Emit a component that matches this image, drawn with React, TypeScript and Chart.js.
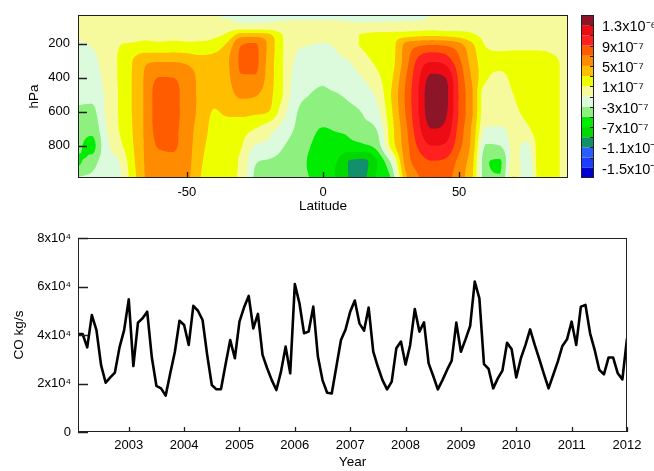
import React, { useEffect, useRef } from 'react';
import { Chart, registerables } from 'chart.js';

Chart.register(...registerables);

const FONT = "'Liberation Sans', Arial, Helvetica, sans-serif";

// ---------- top panel: latitude / pressure field (units of 1e-7) ----------
const LATITUDES = [-90, -85, -80, -75, -70, -65, -60, -55, -50, -45, -40, -35, -30, -25, -20, -15, -10, -5, 0,
  5, 10, 15, 20, 25, 30, 35, 40, 45, 50, 55, 60, 65, 70, 75, 80, 85, 90];
const LEVELS_HPA = [30, 100, 150, 200, 300, 400, 500, 600, 700, 800, 900, 990];
// one row per latitude, one value per pressure level
const FIELD_BY_LAT = [
  [0.5, 0.3, -0.3, -1.4, -2.0, -2.4, -2.6, -3.3, -4.2, -4.6, -5.3, -2.8],
  [0.5, 0.4, 0.0, -0.8, -1.6, -2.1, -2.5, -3.5, -4.4, -5.6, -4.0, -2.4],
  [0.5, 0.5, 0.3, 0.0, -0.2, -0.5, -0.8, -0.9, -1.3, -1.8, -1.8, -1.5],
  [0.5, 0.6, 0.7, 0.9, 1.2, 1.2, 1.1, 1.1, 1.0, 0.3, -1.1, -1.3],
  [0.5, 0.6, 0.7, 1.1, 3.0, 3.1, 3.1, 3.1, 3.0, 2.8, 2.4, 2.0],
  [0.5, 0.6, 0.8, 1.3, 4.6, 5.4, 5.5, 5.5, 5.5, 5.4, 5.3, 5.2],
  [0.5, 0.6, 0.8, 1.2, 4.8, 7.1, 8.2, 8.2, 7.9, 7.2, 6.3, 5.9],
  [0.5, 0.6, 0.8, 1.3, 4.8, 7.0, 7.6, 7.6, 7.5, 7.2, 6.6, 6.0],
  [0.5, 0.6, 0.8, 1.2, 4.5, 6.0, 6.2, 6.2, 6.0, 5.9, 5.7, 5.5],
  [0.3, 0.6, 0.8, 1.2, 3.8, 4.5, 4.5, 4.4, 4.0, 3.6, 3.3, 3.0],
  [-0.9, 0.5, 0.8, 1.5, 3.8, 3.7, 3.5, 2.9, 2.5, 2.2, 1.8, 1.5],
  [-1.6, 0.2, 1.5, 3.4, 4.8, 4.6, 4.2, 3.3, 2.3, 1.8, 1.4, 1.2],
  [-1.6, -0.2, 4.2, 6.9, 7.3, 6.8, 5.4, 3.6, 1.8, 1.1, 0.6, 0.6],
  [-1.6, -0.2, 4.3, 7.1, 7.4, 6.8, 5.2, 3.4, 1.0, -1.1, -2.8, -3.3],
  [-1.6, -0.2, 3.6, 4.6, 4.3, 4.1, 3.7, 3.0, -0.2, -1.5, -3.3, -3.8],
  [-1.6, -0.3, 1.1, 1.2, 1.2, 1.2, 1.1, 0.0, -1.6, -2.8, -3.7, -4.2],
  [-1.6, -0.4, -0.2, -0.6, -1.2, -1.8, -2.2, -2.8, -3.2, -3.9, -4.3, -4.6],
  [-1.6, -0.4, -0.2, -0.9, -1.7, -2.5, -3.0, -3.6, -4.3, -4.9, -5.2, -5.0],
  [-1.6, -0.4, -0.2, -1.1, -2.1, -2.8, -3.2, -3.8, -5.1, -5.8, -6.3, -6.0],
  [-1.6, -0.4, 0.0, -0.6, -1.5, -2.2, -3.1, -3.7, -4.8, -5.8, -7.0, -7.2],
  [-1.6, -0.5, 0.6, 0.6, -0.9, -1.8, -2.6, -3.5, -4.6, -5.6, -9.2, -9.1],
  [-1.6, -0.5, 1.2, 1.2, 0.4, -0.9, -1.9, -2.8, -3.6, -5.3, -9.4, -9.2],
  [-1.6, -0.4, 1.6, 1.8, 1.4, 0.6, -0.5, -1.5, -2.8, -4.0, -7.0, -6.5],
  [-1.6, -0.3, 1.8, 2.2, 2.2, 2.6, 3.0, 2.6, 2.1, 1.6, -2.8, -4.9],
  [-1.6, -0.2, 2.2, 5.2, 5.8, 6.6, 7.0, 6.8, 6.2, 5.8, 5.3, 4.0],
  [-1.6, -0.1, 2.6, 6.3, 9.5, 10.6, 11.0, 10.9, 10.4, 9.3, 7.8, 6.8],
  [-0.9, 0.1, 2.8, 6.6, 10.8, 13.5, 14.3, 14.2, 13.0, 11.0, 8.8, 7.8],
  [0.3, 0.3, 2.6, 6.4, 10.2, 13.0, 13.6, 13.4, 12.4, 10.7, 8.5, 7.6],
  [0.3, 0.4, 2.2, 5.4, 7.4, 8.5, 8.8, 8.8, 8.3, 7.6, 6.3, 5.8],
  [0.3, 0.5, 1.3, 3.1, 4.0, 4.6, 5.0, 5.0, 4.4, 4.0, 3.3, 3.0],
  [0.3, 0.5, 0.6, 0.8, 1.8, 1.3, -0.2, -0.3, -1.2, -3.2, -4.8, -4.6],
  [0.3, 0.5, 0.6, 0.6, 1.6, 0.5, 0.0, -0.2, -1.2, -3.0, -5.2, -4.9],
  [0.3, 0.5, 0.6, 0.6, 1.8, 1.5, 1.0, 0.5, -0.3, -0.5, 0.0, 1.2],
  [0.3, 0.5, 0.6, 0.6, 1.9, 2.0, 2.0, 1.6, 0.6, -1.4, -2.0, -2.6],
  [0.3, 0.5, 0.6, 0.6, 1.9, 2.1, 2.2, 2.2, 2.2, 2.2, 2.2, 2.0],
  [0.3, 0.5, 0.6, 0.5, 1.3, 1.6, 1.6, 1.6, 1.6, 1.6, 1.6, 1.6],
  [0.3, 0.4, 0.4, 0.4, 0.3, -0.2, -0.2, -0.2, -0.2, -0.2, -0.2, -0.2],
];
const LAT_TICKS = [-50, 0, 50];
const P_TICKS = [200, 400, 600, 800];
// contour band edges (units of 1e-7) and colours, bottom to top
const BAND_EDGES = [-17, -15, -13, -11, -9, -7, -5, -3, -1, 1, 3, 5, 7, 9, 11, 13, 15];
const BAND_COLORS = [
  '#0000d2', '#1c3cff', '#2a5cff', '#12906c', '#00d800', '#00ec00', '#8ef07e', '#dcfadc',
  '#f7fa9c', '#eeff00', '#ffbf00', '#ff8c00', '#ff5c00', '#ff2020', '#ee0c14', '#8c1528',
];
const COLORBAR_LABELS = [13, 9, 5, 1, -3, -7, -11, -15];

// ---------- bottom panel: monthly CO flux ----------
const FIRST_MONTH = 2002 + 1 / 12; // Feb 2002, one value per month
const CO_KGS = [
  40400, 40400, 34900, 48200, 42000, 27600, 20300, 22500, 24500, 34900, 42000, 54700,
  27200, 45100, 46900, 49600, 30800, 19000, 18000, 15000, 24200, 33100, 45900, 44100,
  35900, 52000, 50000, 46200, 31800, 19400, 17600, 17700, 28000, 37900, 30400, 45500,
  51400, 56100, 42700, 48700, 31800, 26300, 21400, 17300, 24900, 35200, 24200, 61000,
  53100, 40700, 41400, 51700, 31100, 21400, 16200, 15900, 26900, 37900, 42300, 49600,
  54200, 44800, 41800, 51300, 33100, 26900, 21400, 17600, 20800, 34500, 37300, 27800,
  35900, 50700, 41400, 45200, 28300, 23100, 17600, 21400, 25600, 29400, 45100, 33100,
  38200, 43700, 62000, 55100, 28000, 26000, 18000, 22100, 25300, 36800, 34100, 22500,
  30400, 35900, 42300, 35900, 30000, 23900, 18000, 23500, 29000, 35500, 38200, 45500,
  35900, 51700, 52400, 40700, 33800, 25600, 23800, 30700, 30700, 24200, 21700, 38600,
];
const YEAR_TICKS = [2003, 2004, 2005, 2006, 2007, 2008, 2009, 2010, 2011, 2012];
const CO_TICKS = [0, 20000, 40000, 60000, 80000];

// ---------- helpers ----------
const hexToRgb = (h: string) => [parseInt(h.slice(1, 3), 16), parseInt(h.slice(3, 5), 16), parseInt(h.slice(5, 7), 16)];
const BAND_RGB = BAND_COLORS.map(hexToRgb);

function locate(arr: number[], v: number): [number, number] {
  const n = arr.length;
  if (v <= arr[0]) return [0, 0];
  if (v >= arr[n - 1]) return [n - 2, 1];
  let i = 0;
  while (i < n - 2 && arr[i + 1] < v) i++;
  return [i, (v - arr[i]) / (arr[i + 1] - arr[i])];
}

// monotone (Fritsch–Carlson) cubic tangents for smooth contour rendering between grid nodes
function monoTangents(xs: number[], vs: number[]) {
  const n = xs.length;
  const d: number[] = [];
  for (let k = 0; k < n - 1; k++) d.push((vs[k + 1] - vs[k]) / (xs[k + 1] - xs[k]));
  const m: number[] = new Array(n);
  m[0] = d[0];
  m[n - 1] = d[n - 2];
  for (let k = 1; k < n - 1; k++) m[k] = d[k - 1] * d[k] <= 0 ? 0 : (d[k - 1] + d[k]) / 2;
  for (let k = 0; k < n - 1; k++) {
    if (d[k] === 0) { m[k] = 0; m[k + 1] = 0; continue; }
    const a = m[k] / d[k], b = m[k + 1] / d[k];
    const s = a * a + b * b;
    if (s > 9) {
      const t = 3 / Math.sqrt(s);
      m[k] = t * a * d[k];
      m[k + 1] = t * b * d[k];
    }
  }
  return m;
}

function hermite(xs: number[], vs: number[], ms: number[], i: number, t: number) {
  const h = xs[i + 1] - xs[i];
  const t2 = t * t, t3 = t2 * t;
  return (2 * t3 - 3 * t2 + 1) * vs[i] + (t3 - 2 * t2 + t) * h * ms[i]
    + (-2 * t3 + 3 * t2) * vs[i + 1] + (t3 - t2) * h * ms[i + 1];
}

const COLUMN_TANGENTS = FIELD_BY_LAT.map((col) => monoTangents(LEVELS_HPA, col));

function bandIndex(v: number) {
  for (let k = 0; k < BAND_COLORS.length; k++) if (v < BAND_EDGES[k + 1]) return k;
  return BAND_COLORS.length - 1;
}

const SUP: Record<string, string> = { '-': '⁻', '0': '⁰', '1': '¹', '2': '²', '3': '³', '4': '⁴', '5': '⁵', '6': '⁶', '7': '⁷', '8': '⁸', '9': '⁹' };
const sup = (s: string) => s.split('').map((ch) => SUP[ch] || ch).join('');

function colorbarLabel(v: number) {
  if (Math.abs(v) >= 10) return `${+(v / 10).toFixed(1)}x10${sup('-6')}`;
  return `${v}x10${sup('-7')}`;
}

// keep the plot area exactly where the fixed axis sizes put it
const noPad = (s: any) => {
  s.paddingTop = 0; s.paddingBottom = 0; s.paddingLeft = 0; s.paddingRight = 0;
};

function drawFrameTicks(chart: any, xTicks: number[], yTicks: number[], xLen: number, yLen: number) {
  const { ctx, chartArea: a, scales } = chart;
  const x = scales.x, y = scales.y;
  ctx.save();
  ctx.strokeStyle = '#202020';
  ctx.lineWidth = 1;
  ctx.strokeRect(a.left + 0.5, a.top + 0.5, a.right - a.left - 1, a.bottom - a.top - 1);
  ctx.beginPath();
  xTicks.forEach((v) => {
    const px = Math.round(x.getPixelForValue(v)) + 0.5;
    ctx.moveTo(px, a.bottom);
    ctx.lineTo(px, a.bottom - xLen);
  });
  yTicks.forEach((v) => {
    const py = Math.round(y.getPixelForValue(v)) + 0.5;
    ctx.moveTo(a.left, py);
    ctx.lineTo(a.left + yLen, py);
  });
  ctx.lineWidth = 1.3;
  ctx.stroke();
  ctx.restore();
}

const contourPlugin = {
  id: 'contourField',
  beforeDatasetsDraw(chart: any) {
    const { ctx, chartArea: a, scales } = chart;
    const xs = scales.x, ys = scales.y;
    const L = Math.round(a.left), T = Math.round(a.top);
    const W = Math.round(a.right) - L, H = Math.round(a.bottom) - T;
    const img = ctx.createImageData(W, H);
    const S = 3;
    const colIdx: number[] = [], colT: number[] = [];
    for (let i = 0; i < W * S; i++) {
      const [ci, ct] = locate(LATITUDES, xs.getValueForPixel(L + (i + 0.5) / S));
      colIdx.push(ci);
      colT.push(ct);
    }
    const acc = new Float32Array(W * H * 3);
    const rowVals: number[] = new Array(LATITUDES.length);
    for (let j = 0; j < H * S; j++) {
      const [ri, rt] = locate(LEVELS_HPA, ys.getValueForPixel(T + (j + 0.5) / S));
      for (let k = 0; k < LATITUDES.length; k++) {
        rowVals[k] = hermite(LEVELS_HPA, FIELD_BY_LAT[k], COLUMN_TANGENTS[k], ri, rt);
      }
      const rowTan = monoTangents(LATITUDES, rowVals);
      const py = Math.floor(j / S);
      for (let i = 0; i < W * S; i++) {
        const v = hermite(LATITUDES, rowVals, rowTan, colIdx[i], colT[i]);
        const c = BAND_RGB[bandIndex(v)];
        const o = (py * W + Math.floor(i / S)) * 3;
        acc[o] += c[0]; acc[o + 1] += c[1]; acc[o + 2] += c[2];
      }
    }
    const n = S * S;
    for (let p = 0; p < W * H; p++) {
      img.data[p * 4] = acc[p * 3] / n;
      img.data[p * 4 + 1] = acc[p * 3 + 1] / n;
      img.data[p * 4 + 2] = acc[p * 3 + 2] / n;
      img.data[p * 4 + 3] = 255;
    }
    ctx.putImageData(img, L, T);
  },
  afterDraw(chart: any) {
    drawFrameTicks(chart, LAT_TICKS, P_TICKS, 6, 9);
    const { ctx } = chart;
    const cb = chart.scales.cb;
    const x0 = cb.left + 13, x1 = cb.left + 26;
    ctx.save();
    BAND_COLORS.forEach((col, k) => {
      const yt = cb.getPixelForValue(BAND_EDGES[k + 1]);
      const yb = cb.getPixelForValue(BAND_EDGES[k]);
      ctx.fillStyle = col;
      ctx.fillRect(x0, yt, x1 - x0, yb - yt);
    });
    ctx.strokeStyle = '#202020';
    ctx.lineWidth = 1.2;
    ctx.beginPath();
    for (let k = 1; k < BAND_EDGES.length - 1; k++) {
      const y = Math.round(cb.getPixelForValue(BAND_EDGES[k])) + 0.5;
      ctx.moveTo(x1, y);
      ctx.lineTo(x1 - 4, y);
    }
    ctx.stroke();
    ctx.lineWidth = 1;
    const yt = Math.round(cb.getPixelForValue(BAND_EDGES[BAND_EDGES.length - 1]));
    const yb = Math.round(cb.getPixelForValue(BAND_EDGES[0]));
    ctx.strokeRect(Math.round(x0) + 0.5, yt + 0.5, Math.round(x1 - x0) - 1, yb - yt - 1);
    ctx.restore();
  },
};

const linePlugin = {
  id: 'lineFrame',
  afterDraw(chart: any) {
    drawFrameTicks(chart, YEAR_TICKS, CO_TICKS, 5, 10);
  },
};

const tickFont = { family: FONT, size: 13 };
const titleFont = { family: FONT, size: 13.5 };

function topConfig(): any {
  return {
    type: 'scatter',
    data: { datasets: [{ data: [], pointRadius: 0 }] },
    options: {
      animation: false,
      responsive: false,
      devicePixelRatio: 1,
      layout: { padding: { left: 0, right: 0, top: 15, bottom: 0 } },
      plugins: { legend: { display: false }, tooltip: { enabled: false } },
      scales: {
        x: {
          type: 'linear', position: 'bottom', min: -90, max: 90,
          afterBuildTicks: (s: any) => { s.ticks = LAT_TICKS.map((v) => ({ value: v })); },
          afterFit: (s: any) => { s.height = 37; noPad(s); },
          grid: { display: false, drawTicks: false }, border: { display: false },
          ticks: { padding: 7, color: '#000', font: tickFont, autoSkip: false, maxRotation: 0, callback: (v: any) => String(v) },
          title: { display: true, text: 'Latitude', color: '#000', font: titleFont, padding: { top: 0, bottom: 1 } },
        },
        y: {
          type: 'linear', position: 'left', reverse: true, min: 30, max: 990,
          afterBuildTicks: (s: any) => { s.ticks = P_TICKS.map((v) => ({ value: v })); },
          afterFit: (s: any) => { s.width = 78; noPad(s); },
          grid: { display: false, drawTicks: false }, border: { display: false },
          ticks: { padding: 8, color: '#000', font: tickFont, autoSkip: false, callback: (v: any) => String(v) },
          title: { display: true, text: 'hPa', color: '#000', font: titleFont, padding: { top: 26, bottom: 0 } },
        },
        cb: {
          type: 'linear', axis: 'y', position: 'right', min: -17, max: 15,
          afterBuildTicks: (s: any) => { s.ticks = COLORBAR_LABELS.map((v) => ({ value: v })); },
          afterFit: (s: any) => { s.width = 86; noPad(s); },
          grid: { display: false, drawTicks: false }, border: { display: false },
          ticks: { padding: 34, labelOffset: 2, color: '#000', font: { family: FONT, size: 14.5 }, autoSkip: false, callback: (v: any) => colorbarLabel(v) },
        },
      },
    },
    plugins: [contourPlugin],
  };
}

function bottomConfig(): any {
  const points = CO_KGS.map((v, i) => ({ x: FIRST_MONTH + i / 12, y: v }));
  return {
    type: 'line',
    data: {
      datasets: [{
        data: points, borderColor: '#000', borderWidth: 2.6, pointRadius: 0, tension: 0,
        fill: false, borderJoinStyle: 'round',
      }],
    },
    options: {
      animation: false,
      responsive: false,
      devicePixelRatio: 1,
      layout: { padding: { left: 0, right: 27, top: 18, bottom: 0 } },
      plugins: { legend: { display: false }, tooltip: { enabled: false } },
      scales: {
        x: {
          type: 'linear', min: FIRST_MONTH, max: 2012,
          afterBuildTicks: (s: any) => { s.ticks = YEAR_TICKS.map((v) => ({ value: v })); },
          afterFit: (s: any) => { s.height = 39; noPad(s); },
          grid: { display: false, drawTicks: false }, border: { display: false },
          ticks: { padding: 6, color: '#000', font: tickFont, autoSkip: false, maxRotation: 0, callback: (v: any) => String(v) },
          title: { display: true, text: 'Year', color: '#000', font: titleFont, padding: { top: 0, bottom: 1 } },
        },
        y: {
          type: 'linear', min: 0, max: 80000,
          afterBuildTicks: (s: any) => { s.ticks = CO_TICKS.map((v) => ({ value: v })); },
          afterFit: (s: any) => { s.width = 78; noPad(s); },
          grid: { display: false, drawTicks: false }, border: { display: false },
          ticks: {
            padding: 7, color: '#000', font: tickFont, autoSkip: false,
            callback: (v: any) => (v === 0 ? '0' : `${v / 10000}x10${sup('4')}`),
          },
          title: { display: true, text: 'CO kg/s', color: '#000', font: titleFont, padding: { top: 11, bottom: 0 } },
        },
      },
    },
    plugins: [linePlugin],
  };
}

export default function App() {
  const topRef = useRef<HTMLCanvasElement>(null);
  const botRef = useRef<HTMLCanvasElement>(null);
  useEffect(() => {
    const top = new Chart(topRef.current as HTMLCanvasElement, topConfig());
    const bot = new Chart(botRef.current as HTMLCanvasElement, bottomConfig());
    return () => {
      top.destroy();
      bot.destroy();
    };
  }, []);
  return (
    <div style={{ position: 'absolute', left: 0, top: 0, width: 654, height: 471, background: '#fff' }}>
      <canvas ref={topRef} width={654} height={215} style={{ position: 'absolute', left: 0, top: 0 }} />
      <canvas ref={botRef} width={654} height={251} style={{ position: 'absolute', left: 0, top: 220 }} />
    </div>
  );
}
